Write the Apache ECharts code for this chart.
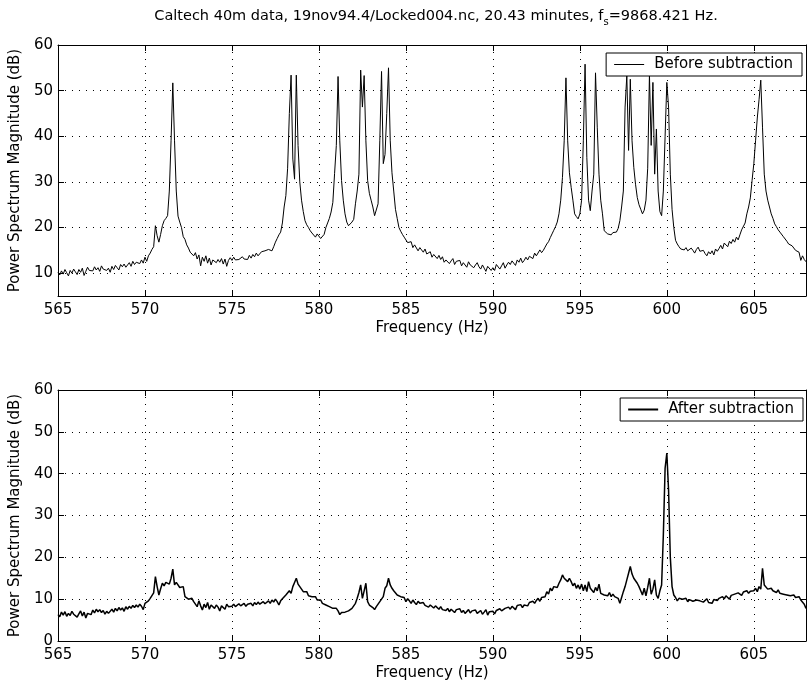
<!DOCTYPE html>
<html>
<head>
<meta charset="utf-8">
<script src="https://cdn.jsdelivr.net/npm/echarts@6/dist/echarts.min.js"></script>
<style>
html, body { margin: 0; padding: 0; background: #fff; }
#spectrum { width: 807px; height: 687px; }
</style>
</head>
<body>
<div id="spectrum"></div>
<script>
// frequency grid of the spectrum (Hz)
const freqStart = 565
const freqStep = 0.1

// before subtraction, dB, one row per Hz
const beforeDb = [
  10.2, 9.6, 10.5, 9.8, 10.8, 10.1, 9.4, 10.6, 10.0, 10.9,
  10.3, 9.7, 10.8, 10.2, 11.1, 9.5, 10.4, 11.3, 10.6, 11.0,
  10.5, 11.4, 10.7, 11.2, 10.4, 11.6, 10.9, 11.3, 10.6, 11.1,
  10.2, 11.5, 10.8, 11.7, 11.2, 10.7, 11.9, 11.4, 12.0, 11.3,
  11.8, 12.3, 11.5, 12.6, 11.9, 12.4, 12.8, 12.1, 12.9, 12.2,
  13.5, 12.6, 13.8, 14.4, 15.2, 15.8, 20.4, 18.2, 16.8, 18.5,
  20.4, 21.5, 22.0, 22.6, 28.0, 39.0, 51.7, 39.0, 28.0, 22.5,
  21.2, 20.0, 18.0, 17.4, 16.2, 15.5, 14.6, 14.9, 13.8, 14.5,
  13.1, 14.0, 11.6, 13.5, 12.6, 13.8, 12.2, 13.3, 11.8, 12.9,
  13.1, 12.3, 13.0, 12.4, 13.2, 12.0, 13.1, 11.5, 12.8, 13.4,
  12.8, 13.5, 12.9, 13.2, 13.0, 12.7, 13.6, 13.1, 13.4, 13.0,
  13.9, 13.3, 14.1, 13.6, 14.4, 13.8, 14.2, 14.7, 14.3, 14.9,
  14.6, 15.2, 15.3, 14.9, 15.8, 16.8, 17.6, 18.4, 19.0, 21.0,
  24.5, 27.0, 33.0, 45.0, 53.4, 35.0, 30.6, 53.4, 38.0, 30.0,
  26.0, 23.5, 21.5, 20.6, 20.0, 19.3, 18.8, 18.4, 17.9, 18.6,
  18.2, 17.6, 17.2, 18.5, 20.0, 21.0, 22.0, 23.4, 25.5, 31.8,
  38.0, 53.1, 39.0, 30.3, 26.0, 23.0, 21.2, 20.4, 20.8, 21.2,
  21.8, 25.2, 28.0, 31.7, 54.5, 46.4, 53.3, 39.0, 30.3, 27.5,
  26.0, 24.5, 22.6, 23.0, 25.2, 39.0, 54.2, 34.0, 36.0, 45.0,
  55.0, 39.0, 32.0, 28.0, 24.0, 22.0, 20.0, 19.2, 18.5, 17.9,
  17.6, 16.7, 16.3, 16.9, 15.6, 16.2, 15.8, 14.9, 15.6, 15.1,
  14.6, 15.3, 14.2, 13.8, 14.7, 13.5, 14.1, 14.4, 13.2, 13.9,
  13.0, 13.6, 12.4, 12.9, 13.3, 12.1, 12.7, 13.2, 11.9, 12.6,
  12.2, 12.8, 11.6, 12.3, 11.9, 11.3, 12.5, 11.8, 12.1, 11.2,
  11.8, 12.3, 11.4, 10.9, 11.8, 11.1, 10.4, 11.5, 11.9, 10.6,
  11.2, 10.6, 11.9, 12.2, 10.9, 11.6, 12.3, 11.1, 11.8, 12.4,
  11.9, 12.7, 12.2, 11.7, 12.9, 12.4, 13.3, 12.3, 12.8, 13.5,
  12.9, 13.7, 14.0, 13.2, 14.4, 13.8, 14.2, 15.1, 14.5, 15.0,
  15.7, 16.4, 16.9, 17.8, 18.6, 19.4, 20.2, 21.2, 23.0, 26.0,
  31.0, 39.0, 52.8, 39.0, 32.0, 28.8, 26.0, 23.0, 22.4, 21.9,
  23.0, 26.0, 39.0, 55.8, 35.4, 26.0, 23.7, 28.0, 31.7, 53.9,
  42.0, 31.7, 26.0, 23.0, 19.3, 19.0, 18.6, 18.8, 18.4, 18.9,
  18.8, 19.0, 19.8, 21.5, 24.5, 28.0, 46.4, 53.3, 36.9, 52.5,
  39.0, 33.2, 29.5, 26.6, 25.0, 24.0, 23.0, 23.8, 26.0, 33.0,
  53.5, 38.0, 51.8, 31.7, 41.6, 28.0, 23.5, 22.6, 28.0, 40.0,
  51.8, 46.4, 31.7, 24.0, 20.0, 17.2, 16.4, 15.8, 15.3, 15.6,
  15.1, 15.6, 14.9, 14.6, 15.5, 15.0, 14.4, 15.2, 15.7, 14.8,
  14.5, 15.0, 14.3, 13.8, 14.7, 14.2, 14.9, 14.0, 15.3, 14.8,
  15.4, 16.1, 15.3, 16.6, 16.2, 15.8, 17.0, 16.5, 17.4, 16.8,
  17.9, 17.3, 18.4, 19.5, 19.2, 21.0, 23.0, 24.5, 26.5, 30.3,
  34.0, 39.0, 44.0, 48.0, 52.3, 42.0, 31.7, 28.0, 26.0, 24.5,
  23.0, 22.0, 20.8, 20.2, 19.5, 19.0, 18.6, 18.0, 17.6, 17.0,
  16.4, 16.8, 16.0, 15.6, 15.0, 15.4, 14.6, 12.8, 13.8, 13.0,
  12.5
]

// after subtraction, dB
const afterDb = [
  6.3, 5.8, 6.9, 6.2, 7.0, 5.9, 6.6, 6.1, 7.1, 6.4,
  6.8, 5.7, 6.5, 7.2, 6.0, 6.9, 5.5, 6.6, 7.0, 6.3,
  7.4, 6.7, 7.6, 7.0, 7.5, 6.8, 7.3, 6.4, 7.1, 6.6,
  7.0, 7.6, 6.9, 7.8, 7.2, 8.0, 7.4, 7.9, 7.1, 8.2,
  7.6, 8.3, 7.8, 8.5, 8.0, 8.6, 8.1, 8.8, 8.3, 7.5,
  9.0, 8.8, 9.6, 10.2, 10.4, 11.5, 15.4, 13.0, 11.0, 12.5,
  13.8, 13.2, 14.0, 14.2, 13.6, 15.0, 17.2, 13.4, 14.0, 13.6,
  12.8, 12.6, 13.0, 10.6, 11.0, 10.0, 9.6, 10.2, 9.4, 9.0,
  8.2, 9.6, 8.4, 7.4, 8.8, 8.0, 9.2, 7.6, 8.6, 8.3,
  7.8, 8.6, 8.1, 7.2, 8.4, 8.0, 7.6, 8.8, 8.2, 8.6,
  8.3, 8.8, 8.2, 8.6, 8.9, 8.4, 8.7, 9.0, 8.3, 8.8,
  8.5, 9.0, 8.4, 9.2, 8.7, 9.3, 8.8, 9.1, 9.4, 8.9,
  9.2, 9.6, 9.0, 9.8, 9.3, 10.0, 9.4, 8.6, 9.6, 10.1,
  10.2, 11.0, 10.6, 12.0, 11.4, 13.0, 14.0, 15.0, 13.6, 13.0,
  12.4, 11.8, 11.4, 11.8, 10.8, 11.2, 10.6, 10.2, 10.6, 9.8,
  9.4, 9.8, 9.0, 9.4, 8.6, 9.0, 8.2, 8.4, 7.8, 7.5,
  7.8, 7.2, 6.3, 6.8, 6.5, 6.9, 6.7, 7.2, 7.4, 7.8,
  8.2, 9.0, 10.2, 11.6, 13.4, 10.2, 12.0, 13.8, 9.4, 8.6,
  8.8, 8.0, 7.5, 8.2, 8.8, 9.4, 9.8, 10.6, 12.6, 13.2,
  15.0, 13.4, 12.6, 12.0, 12.2, 11.0, 11.4, 10.6, 10.2, 10.4,
  9.4, 10.1, 9.6, 9.0, 9.8, 9.2, 8.7, 9.5, 9.0, 8.6,
  9.2, 8.5, 8.9, 8.1, 8.6, 8.8, 7.9, 8.4, 8.0, 7.6,
  8.2, 7.5, 7.9, 7.3, 7.8, 7.0, 7.6, 7.2, 6.8, 7.5,
  7.1, 7.7, 6.8, 7.3, 6.6, 7.0, 7.5, 6.7, 7.2, 6.9,
  7.4, 6.6, 7.0, 7.3, 6.4, 6.9, 7.5, 6.2, 7.0, 6.6,
  7.1, 6.5, 7.3, 6.9, 7.7, 7.2, 7.0, 7.8, 7.4, 8.1,
  7.6, 8.3, 7.9, 7.5, 8.5, 8.1, 8.7, 8.0, 8.6, 8.9,
  8.4, 9.2, 8.8, 9.5, 9.0, 9.7, 10.2, 9.5, 10.4, 10.0,
  10.6, 11.8, 11.2, 12.6, 12.0, 13.0, 13.4, 12.8, 13.8, 14.6,
  15.8, 15.0, 15.4, 14.2, 15.0, 14.2, 13.2, 13.8, 12.6, 13.4,
  12.4, 13.6, 12.0, 13.4, 11.8, 14.2, 12.6, 13.0, 11.6, 12.8,
  12.0, 13.6, 11.4, 11.8, 11.0, 11.4, 10.8, 11.6, 10.6, 11.2,
  10.6, 11.0, 10.2, 9.0, 10.4, 11.8, 13.0, 14.6, 16.2, 17.8,
  16.0, 15.0, 14.4, 13.8, 13.0, 12.0, 11.0, 12.6, 10.8, 12.8,
  15.0, 11.2, 12.4, 14.6, 11.0, 10.2, 12.0, 13.4, 25.4, 41.3,
  44.9, 36.0, 20.0, 13.0, 11.0, 10.4, 9.6, 10.2, 9.8, 10.0,
  9.6, 10.2, 9.4, 9.9, 10.3, 9.5, 9.1, 9.8, 10.2, 9.6,
  9.9, 9.3, 9.7, 10.1, 9.2, 9.6, 9.0, 9.9, 10.3, 9.7,
  10.2, 9.8, 10.6, 10.1, 10.8, 10.4, 10.0, 10.9, 10.5, 11.2,
  10.8, 11.5, 11.1, 10.9, 11.7, 11.3, 12.0, 11.4, 11.9, 12.3,
  12.0, 12.6, 11.8, 13.0, 12.4, 17.4, 13.4, 13.0, 12.4, 12.8,
  12.6, 12.0, 12.4, 11.6, 12.2, 11.4, 11.8, 11.2, 11.6, 11.0,
  11.4, 10.8, 10.6, 11.0, 10.4, 10.2, 10.6, 9.8, 9.6, 8.8,
  7.8
]

const xTicks = [565, 570, 575, 580, 585, 590, 595, 600, 605]
const yTicksTop = [10, 20, 30, 40, 50, 60]
const yTicksBottom = [0, 10, 20, 30, 40, 50, 60]
const seriesNames = ['Before subtraction', 'After subtraction']

const font = 'DejaVu Sans'
const fs = 15
let myChart

const toPairs = (vals) =>
  vals.map((v, i) => [Math.round((freqStart + i * freqStep) * 10) / 10, v])

const boxLine = { show: true, onZero: false, lineStyle: { color: '#000', width: 1 } }
const dotted = { show: true, lineStyle: { color: '#000', width: 1, type: [1, 6] } }
const tick = (vals) => ({
  show: true, inside: true, length: 6, customValues: vals,
  lineStyle: { color: '#000', width: 1 }
})
const labelStyle = { color: '#000', fontFamily: font, fontSize: fs }

// one pair of x axes (bottom + top box edge) per panel
const makeX = (gridIndex) => [
  {
    type: 'value', gridIndex, min: 565, max: 608, interval: 5,
    axisLine: boxLine, axisTick: tick(xTicks), splitLine: dotted,
    axisLabel: { ...labelStyle, margin: 7, customValues: xTicks },
    name: 'Frequency (Hz)', nameLocation: 'middle', nameGap: 25,
    nameTextStyle: labelStyle
  },
  {
    type: 'value', gridIndex, position: 'top', min: 565, max: 608, interval: 5,
    axisLine: boxLine, axisTick: tick(xTicks), splitLine: { show: false },
    axisLabel: { show: false }
  }
]

const makeY = (gridIndex, min, ticks) => [
  {
    type: 'value', gridIndex, min, max: 60,
    axisLine: boxLine, axisTick: tick(ticks), splitLine: dotted,
    axisLabel: { ...labelStyle, margin: 5, customValues: ticks },
    name: 'Power Spectrum Magnitude (dB)', nameLocation: 'middle', nameGap: 29,
    nameTextStyle: labelStyle
  },
  {
    type: 'value', gridIndex, position: 'right', min, max: 60,
    axisLine: boxLine, axisTick: tick(ticks), splitLine: { show: false },
    axisLabel: { show: false }
  }
]

const makeLegend = (name, top, right, lineH) => ({
  data: [name], top, right, orient: 'vertical', icon: 'rect',
  itemWidth: 30, itemHeight: lineH,
  padding: [3, 9, 3, 8],
  backgroundColor: '#fff', borderColor: '#000', borderWidth: 1, borderRadius: 0,
  textStyle: { ...labelStyle, lineHeight: 17, padding: [0, 0, 0, 5] },
  selectedMode: false
})

const options = {
  animation: false,
  backgroundColor: '#fff',
  title: {
    text: 'Caltech 40m data, 19nov94.4/Locked004.nc, 20.43 minutes, f{s|s}=9868.421 Hz.',
    left: 431, top: 1, textAlign: 'center',
    textStyle: {
      color: '#000', fontFamily: font, fontSize: 14.5, fontWeight: 'normal',
      rich: { s: { fontFamily: font, fontSize: 10, padding: [11, 0, 0, 0], color: '#000' } }
    }
  },
  legend: [
    makeLegend(seriesNames[0], 53, 5, 1),
    makeLegend(seriesNames[1], 398, 4, 2)
  ],
  grid: [
    { left: 55, top: 45, width: 751, height: 251 },
    { left: 55, top: 390, width: 751, height: 251 }
  ],
  xAxis: [...makeX(0), ...makeX(1)],
  yAxis: [...makeY(0, 5, yTicksTop), ...makeY(1, 0, yTicksBottom)],
  series: [
    {
      name: seriesNames[0], type: 'line', xAxisIndex: 0, yAxisIndex: 0,
      data: toPairs(beforeDb), symbol: 'none', color: '#000',
      lineStyle: { color: '#000', width: 1 }
    },
    {
      name: seriesNames[1], type: 'line', xAxisIndex: 2, yAxisIndex: 2,
      data: toPairs(afterDb), symbol: 'none', color: '#000',
      lineStyle: { color: '#000', width: 1.5 }
    }
  ]
}

const initChart = () => {
  myChart = echarts.init(document.getElementById('spectrum'))
  myChart.setOption(options)
}
initChart()
</script>
</body>
</html>
